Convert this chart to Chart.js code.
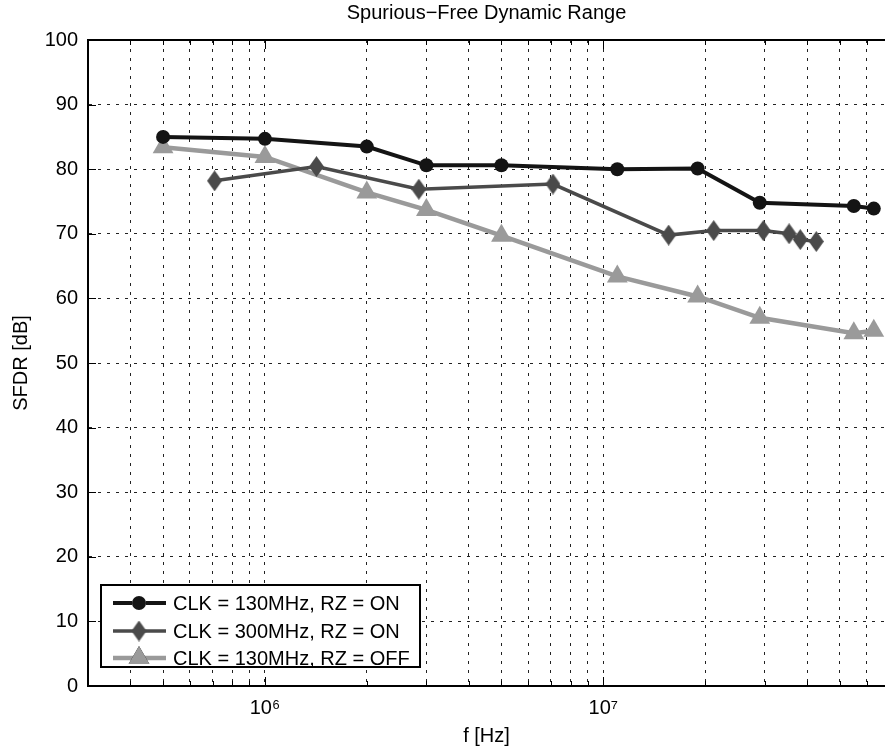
<!DOCTYPE html>
<html>
<head>
<meta charset="utf-8">
<script src="https://cdn.jsdelivr.net/npm/chart.js@4.4.1/dist/chart.umd.min.js"></script>
<style>
  html, body { margin: 0; padding: 0; background: #fff; }
  #wrap { width: 885px; height: 748px; }
</style>
</head>
<body>
<div id="wrap"><canvas id="sfdrChart" width="885" height="748"></canvas></div>
<script>
// values
const seriesLabels = ['CLK = 130MHz, RZ = ON', 'CLK = 300MHz, RZ = ON', 'CLK = 130MHz, RZ = OFF'];

const freq130on = [5e5, 1e6, 2e6, 3e6, 5e6, 1.1e7, 1.9e7, 2.9e7, 5.5e7, 6.3e7];
const sfdr130on = [85.0, 84.7, 83.5, 80.6, 80.6, 80.0, 80.1, 74.8, 74.3, 73.9];

const freq300on = [7.1e5, 1.42e6, 2.85e6, 7.1e6, 1.56e7, 2.12e7, 2.97e7, 3.54e7, 3.82e7, 4.26e7];
const sfdr300on = [78.2, 80.4, 76.9, 77.7, 69.8, 70.5, 70.5, 70.0, 69.1, 68.8];

const freq130off = [5e5, 1e6, 2e6, 3e6, 5e6, 1.1e7, 1.9e7, 2.9e7, 5.5e7, 6.3e7];
const sfdr130off = [83.4, 81.9, 76.4, 73.7, 69.7, 63.4, 60.3, 57.0, 54.6, 55.0];

const xTickValues = [4e5, 5e5, 6e5, 7e5, 8e5, 9e5,
  1e6, 2e6, 3e6, 4e6, 5e6, 6e6, 7e6, 8e6, 9e6,
  1e7, 2e7, 3e7, 4e7, 5e7, 6e7];
const xMajorLabels = { 1000000: '10⁶', 10000000: '10⁷' };

const FONT = "'Liberation Sans', Arial, Helvetica, sans-serif";
Chart.defaults.font.family = FONT;
Chart.defaults.color = '#000';

function makeDiamond(w, h, color) {
  const c = document.createElement('canvas');
  c.width = w;
  c.height = h;
  const g = c.getContext('2d');
  g.fillStyle = color;
  g.beginPath();
  g.moveTo(w / 2, 0);
  g.lineTo(w, h / 2);
  g.lineTo(w / 2, h);
  g.lineTo(0, h / 2);
  g.closePath();
  g.fill();
  return c;
}

const colA = '#141414';
const colB = '#4a4a4a';
const colC = '#9a9a9a';
const diamond = makeDiamond(15, 21, colB);

function toPoints(xs, ys) {
  return xs.map((x, i) => ({ x: x, y: ys[i] }));
}

// MATLAB style tick marks drawn inside the axes
const innerTicks = {
  id: 'innerTicks',
  beforeDatasetsDraw(chart) {
    const { ctx, chartArea } = chart;
    const x = chart.scales.x;
    const y = chart.scales.y;
    ctx.save();
    ctx.strokeStyle = '#000';
    ctx.lineWidth = 1;
    ctx.beginPath();
    xTickValues.forEach(v => {
      const px = Math.round(x.getPixelForValue(v)) + 0.5;
      const len = xMajorLabels[v] ? 9 : 5;
      ctx.moveTo(px, chartArea.bottom);
      ctx.lineTo(px, chartArea.bottom - len);
      ctx.moveTo(px, chartArea.top);
      ctx.lineTo(px, chartArea.top + len);
    });
    for (let v = 0; v <= 100; v += 10) {
      const py = Math.round(y.getPixelForValue(v)) + 0.5;
      ctx.moveTo(chartArea.left, py);
      ctx.lineTo(chartArea.left + 8, py);
    }
    ctx.stroke();
    ctx.restore();
  }
};

// legend box in the lower left corner of the axes
const boxLegend = {
  id: 'boxLegend',
  afterDraw(chart) {
    const { ctx, chartArea } = chart;
    const left = chartArea.left + 13;
    const top = 585;
    const w = 319;
    const h = 82;
    ctx.save();
    ctx.fillStyle = '#fff';
    ctx.fillRect(left, top, w, h);
    ctx.strokeStyle = '#000';
    ctx.lineWidth = 2;
    ctx.strokeRect(left, top, w, h);
    const rows = [603, 631, 658];
    chart.data.datasets.forEach((ds, i) => {
      const yy = rows[i];
      ctx.strokeStyle = ds.borderColor;
      ctx.lineWidth = ds.borderWidth;
      ctx.beginPath();
      ctx.moveTo(left + 12, yy);
      ctx.lineTo(left + 65, yy);
      ctx.stroke();
      Chart.helpers.drawPoint(ctx, {
        pointStyle: ds.pointStyle,
        radius: ds.pointRadius,
        borderWidth: 0,
        rotation: 0
      }, left + 38, yy);
      ctx.fillStyle = ds.pointBackgroundColor;
      ctx.fill();
      ctx.fillStyle = '#000';
      ctx.font = '20px ' + FONT;
      ctx.textBaseline = 'middle';
      ctx.textAlign = 'left';
      ctx.fillText(ds.label, left + 72, yy + 1);
    });
    ctx.restore();
  }
};

const ctx = document.getElementById('sfdrChart');

new Chart(ctx, {
  type: 'line',
  data: {
    datasets: [
      {
        label: seriesLabels[0],
        data: toPoints(freq130on, sfdr130on),
        borderColor: colA,
        backgroundColor: colA,
        pointBackgroundColor: colA,
        pointBorderColor: colA,
        borderWidth: 4,
        pointStyle: 'circle',
        pointRadius: 7,
        pointBorderWidth: 0,
        tension: 0
      },
      {
        label: seriesLabels[1],
        data: toPoints(freq300on, sfdr300on),
        borderColor: colB,
        backgroundColor: colB,
        pointBackgroundColor: colB,
        pointBorderColor: colB,
        borderWidth: 3.5,
        pointStyle: diamond,
        pointRadius: 8,
        pointBorderWidth: 0,
        tension: 0
      },
      {
        label: seriesLabels[2],
        data: toPoints(freq130off, sfdr130off),
        borderColor: colC,
        backgroundColor: colC,
        pointBackgroundColor: colC,
        pointBorderColor: colC,
        borderWidth: 4.5,
        pointStyle: 'triangle',
        pointRadius: 12,
        pointBorderWidth: 0,
        tension: 0
      }
    ]
  },
  options: {
    responsive: false,
    animation: false,
    devicePixelRatio: 1,
    layout: { padding: 0, autoPadding: false },
    plugins: {
      legend: { display: false },
      title: { display: false },
      tooltip: { enabled: false }
    },
    scales: {
      x: {
        type: 'logarithmic',
        position: 'bottom',
        min: 3e5,
        max: 6.8e7,
        afterBuildTicks: scale => {
          scale.ticks = xTickValues.map(v => ({ value: v }));
        },
        afterFit: scale => { scale.height = 62; },
        grid: { color: '#222', lineWidth: 1, drawTicks: false },
        border: { display: true, color: '#000', width: 2, dash: [3, 6] },
        ticks: {
          autoSkip: false,
          maxRotation: 0,
          padding: 10,
          color: '#000',
          font: { size: 20 },
          callback: v => xMajorLabels[v] || ''
        },
        title: { display: true, text: 'f [Hz]', color: '#000', font: { size: 20 }, padding: { top: 0, bottom: 0 } }
      },
      xTop: {
        type: 'linear',
        position: 'top',
        afterFit: scale => { scale.height = 40; },
        grid: { display: false, drawTicks: false },
        border: { display: true, color: '#000', width: 2 },
        ticks: { display: false },
        title: {
          display: true,
          text: 'Spurious−Free Dynamic Range',
          color: '#000',
          font: { size: 20 },
          padding: { top: 1, bottom: 0 }
        }
      },
      y: {
        min: 0,
        max: 100,
        afterFit: scale => { scale.width = 88; },
        grid: { color: '#222', lineWidth: 1, drawTicks: false },
        border: { display: true, color: '#000', width: 2, dash: [3, 6] },
        ticks: { stepSize: 10, padding: 10, color: '#000', font: { size: 20 } },
        title: { display: true, text: 'SFDR [dB]', color: '#000', font: { size: 20 }, padding: { top: 9, bottom: 0 } }
      }
    }
  },
  plugins: [innerTicks, boxLegend]
});
</script>
</body>
</html>
